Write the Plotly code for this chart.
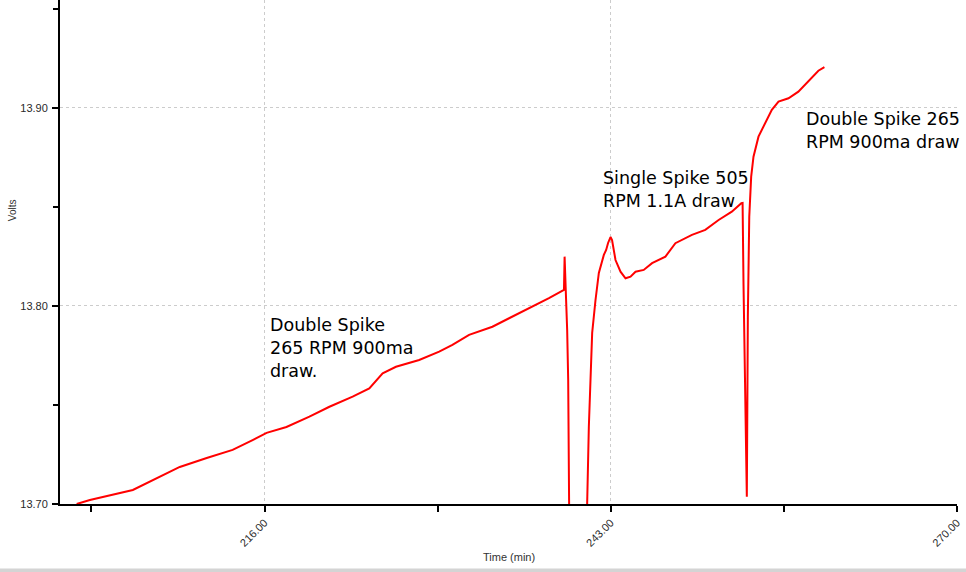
import plotly.graph_objects as go

# Time (min)
time_min = [201.35, 202.38, 205.73, 206.51, 209.39, 211.49, 213.51, 215.07, 216.16, 217.71,
            219.50, 221.06, 222.87, 224.17, 225.21, 226.25, 228.06, 229.62, 230.65, 231.95,
            233.77, 235.07, 236.62, 238.18, 239.35, 239.40, 239.48, 239.60, 239.68, 239.74,
            239.81, 241.14, 241.16, 241.29, 241.42, 241.55, 241.81, 242.07, 242.46, 242.64,
            242.79, 242.98, 243.10, 243.37, 243.76, 244.15, 244.54, 244.93, 245.57, 246.22,
            247.26, 248.04, 249.33, 250.37, 251.41, 252.44, 253.18, 253.28, 253.35, 253.49,
            253.61, 253.69, 253.80, 253.95, 254.13, 254.52, 255.04, 255.56, 256.08, 256.86,
            257.63, 258.41, 259.19, 259.66]
# Volts
volts = [13.7000, 13.7020, 13.7071, 13.7096, 13.7187, 13.7232, 13.7273, 13.7323, 13.7359, 13.7389,
         13.7441, 13.7491, 13.7542, 13.7584, 13.7660, 13.7693, 13.7727, 13.7769, 13.7803, 13.7854,
         13.7895, 13.7938, 13.7988, 13.8039, 13.8081, 13.8249, 13.8097, 13.7879, 13.7626, 13.7005,
         13.6500, 13.6500, 13.7005, 13.7390, 13.7611, 13.7864, 13.8030, 13.8167, 13.8258, 13.8283,
         13.8318, 13.8348, 13.8333, 13.8232, 13.8173, 13.8140, 13.8148, 13.8173, 13.8182, 13.8216,
         13.8249, 13.8317, 13.8359, 13.8384, 13.8434, 13.8476, 13.8519, 13.8520, 13.8116, 13.7592,
         13.7037, 13.7946, 13.8451, 13.8653, 13.8754, 13.8855, 13.8923, 13.8990, 13.9032, 13.9049,
         13.9082, 13.9133, 13.9188, 13.9206]

notes_text = ["Double Spike<br>265 RPM 900ma<br>draw.",
              "Single Spike 505<br>RPM 1.1A draw",
              "Double Spike 265<br>RPM 900ma draw"]
notes_x = [216.28, 242.23, 258.10]
notes_y = [13.7965, 13.8709, 13.9007]

x_range = [200.05, 270.0]
y_range = [13.70, 13.9545]

fig = go.Figure()
fig.add_trace(go.Scatter(x=time_min, y=volts, mode="lines",
                         line=dict(color="#ff0000", width=2), showlegend=False))

for t, xv, yv in zip(notes_text, notes_x, notes_y):
    fig.add_annotation(x=xv, y=yv, xref="x", yref="y", text=t, showarrow=False,
                       xanchor="left", yanchor="top", align="left",
                       font=dict(family="DejaVu Sans", size=17.5, color="#000000"))

fig.add_annotation(text="Volts", xref="paper", yref="paper", x=-0.0535, y=0.583,
                   xanchor="center", yanchor="middle",
                   showarrow=False, textangle=-90,
                   font=dict(family="Liberation Sans", size=10, color="#333333"))
fig.add_annotation(text="Time (min)", xref="paper", yref="paper", x=0.5005, y=-0.105,
                   xanchor="center", yanchor="middle",
                   showarrow=False,
                   font=dict(family="Liberation Sans", size=11, color="#333333"))

fig.add_shape(type="rect", xref="paper", yref="paper", x0=-0.07, x1=1.02, y0=-0.136, y1=-0.128,
              line=dict(width=0), fillcolor="#d4d4d4", layer="below")

fig.update_layout(
    width=966, height=572,
    margin=dict(l=60, r=9, t=0, b=68, autoexpand=False),
    paper_bgcolor="white", plot_bgcolor="white",
    font=dict(family="Liberation Sans", size=11, color="#333333"),
)
fig.update_xaxes(range=x_range, tick0=216, dtick=27, tickformat=".2f", tickangle=-45,
                 automargin=False,
                 showline=True, linecolor="black", linewidth=2,
                 ticks="outside", ticklen=6, tickwidth=2, tickcolor="black",
                 showgrid=True, gridcolor="#cccccc", gridwidth=1, griddash="dot",
                 zeroline=False,
                 minor=dict(tick0=202.5, dtick=13.5, ticks="outside", ticklen=6, tickwidth=2,
                            tickcolor="black", showgrid=False),
                 tickfont=dict(family="Liberation Sans", size=11, color="#2a2a2a"))
fig.update_yaxes(range=y_range, tick0=13.70, dtick=0.1, tickformat=".2f",
                 automargin=False, ticklabelstandoff=2,
                 showline=True, linecolor="black", linewidth=2,
                 ticks="outside", ticklen=6, tickwidth=2, tickcolor="black",
                 showgrid=True, gridcolor="#cccccc", gridwidth=1, griddash="dot",
                 zeroline=False,
                 minor=dict(tick0=13.75, dtick=0.05, ticks="outside", ticklen=5, tickwidth=2,
                            tickcolor="black", showgrid=False),
                 tickfont=dict(family="Liberation Sans", size=11, color="#2a2a2a"))

fig.write_html("out.html", config={"displayModeBar": False},
               post_script="document.body.style.margin='0';document.body.style.overflow='hidden';")
